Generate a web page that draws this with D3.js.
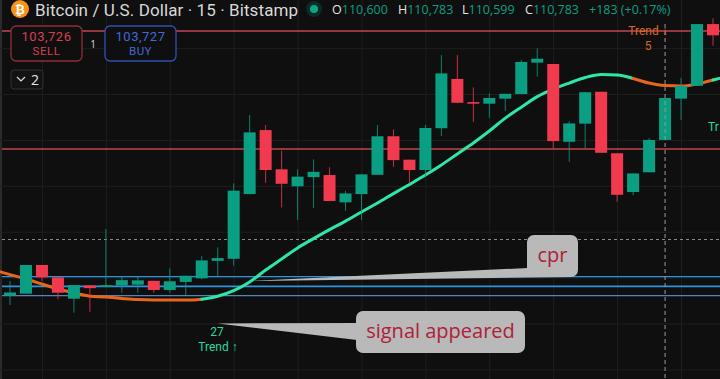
<!DOCTYPE html>
<html lang="en">
<head>
<meta charset="UTF-8">
<title>Bitcoin / U.S. Dollar 15</title>
<script src="https://d3js.org/d3.v7.min.js"></script>
<style>
  html, body { margin: 0; padding: 0; background: #0f0f0f; overflow: hidden; }
  svg { display: block; font-family: "Open Sans", sans-serif; }
  .grid line { stroke: #1f1f1f; }
  .grid path { display: none; }
</style>
</head>
<body>
<div id="chart"></div>
<script>
// candles (15 min bars)
var opens  = [109922,109930,110055,110001,109908,109966,109959,109966,109969,109986,109946,109981,109997,110073,110082,110364,110643,110472,110398,110438,110447,110328,110364,110448,110616,110514,110469,110651,110866,110765,110758,110780,110800,110937,110931,110592,110671,110810,110542,110373,110459,110600,110780,110836,111105];
var highs  = [109985,110055,110055,110001,109967,109966,110212,110007,110004,109986,110040,110008,110094,110132,110411,110709,110665,110553,110472,110515,110481,110379,110450,110665,110646,110514,110665,110970,110970,110829,110803,110801,110948,110999,110931,110682,110808,110810,110542,110454,110608,110783,110871,111105,111130];
var lows   = [109880,109930,109985,109906,109847,109851,109959,109934,109934,109934,109934,109924,109992,110007,110052,110364,110413,110306,110251,110304,110334,110291,110251,110448,110483,110411,110437,110617,110760,110679,110697,110726,110800,110876,110565,110505,110565,110544,110331,110359,110459,110599,110687,110836,111011];
var closes = [109935,110055,110001,109934,109967,109954,109967,109989,109988,109946,109984,110008,110075,110085,110379,110633,110469,110409,110440,110461,110334,110367,110450,110616,110512,110469,110652,110890,110762,110758,110783,110801,110940,110954,110595,110672,110808,110544,110361,110454,110600,110783,110835,111105,111056];

// trend line, starts one bar before the first candle and ends one after the last
var trend = [110033,110013,109994,109972,109950,109933,109919,109915,109909,109904,109902,109902,109902,109906,109919,109943,109981,110033,110081,110129,110170,110209,110246,110286,110325,110366,110406,110447,110491,110539,110587,110639,110695,110743,110789,110822,110848,110872,110885,110883,110868,110848,110837,110835,110844,110861,110879];
var trendFlips = [12, 39, 44]; // bar index where the trend changes side

var redLevels = [111075, 110560];
var blueLevels = [110004, 109962, 109921];
var dashedLevel = 110166;
var gridPrices = [111000,110800,110600,110400,110200,110000,109800,109600];
var gridBars = [2,6,10,14,18,22,26,30,34,38,42];
var crosshairBar = 41;

var width = 720, height = 379;
var green = "#0a9e82", red = "#f23a4e", lineGreen = "#2ee6a6", lineOrange = "#e8651c";

var svg = d3.select("#chart").append("svg")
  .attr("width", width)
  .attr("height", height);

var x = d3.scaleLinear().domain([0, 44]).range([10, 713]);
var y = d3.scaleLinear().domain([111210, 109558]).range([0, 379]);

// left edge strip of the screenshot
svg.append("rect").attr("width", 2).attr("height", height).attr("fill", "#2a2a2a");

// grid
svg.append("g").attr("class", "grid")
  .attr("transform", "translate(0," + height + ")")
  .call(d3.axisBottom(x).tickValues(gridBars).tickSize(-height).tickFormat(""));
svg.append("g").attr("class", "grid")
  .call(d3.axisLeft(y).tickValues(gridPrices).tickSize(-width).tickFormat(""));

// levels
svg.selectAll(".red-level").data(redLevels).enter().append("line")
  .attr("x1", 2).attr("x2", width)
  .attr("y1", function(d) { return y(d); }).attr("y2", function(d) { return y(d); })
  .attr("stroke", "#c24650").attr("stroke-width", 1.5);

svg.append("line")
  .attr("x1", 2).attr("x2", width)
  .attr("y1", y(dashedLevel)).attr("y2", y(dashedLevel))
  .attr("stroke", "#8a8a8a").attr("stroke-dasharray", "3 3");

svg.selectAll(".blue-level").data(blueLevels).enter().append("line")
  .attr("x1", 2).attr("x2", width)
  .attr("y1", function(d) { return y(d); }).attr("y2", function(d) { return y(d); })
  .attr("stroke", function(d, i) { return i == 2 ? "#4f86bd" : "#2f93e0"; })
  .attr("stroke-width", function(d, i) { return i == 1 ? 1.8 : 1.3; });

// trend line, one path per side
var line = d3.line()
  .x(function(d) { return x(d.bar); })
  .y(function(d) { return y(d.price); })
  .curve(d3.curveMonotoneX);

var trendPoints = trend.map(function(p, i) { return {bar: i - 1, price: p}; });
var cuts = [-1].concat(trendFlips, [45]);
d3.range(cuts.length - 1).forEach(function(k) {
  svg.append("path")
    .datum(trendPoints.filter(function(d) { return d.bar >= cuts[k] && d.bar <= cuts[k + 1]; }))
    .attr("d", line)
    .attr("fill", "none")
    .attr("stroke", k % 2 == 0 ? lineOrange : lineGreen)
    .attr("stroke-width", 3)
    .attr("stroke-linecap", "round");
});

// candles
var candles = svg.append("g").selectAll("g").data(opens).enter().append("g");
function candleColor(d, i) { return closes[i] >= opens[i] ? green : red; }

candles.append("line")
  .attr("x1", function(d, i) { return x(i); })
  .attr("x2", function(d, i) { return x(i); })
  .attr("y1", function(d, i) { return y(highs[i]); })
  .attr("y2", function(d, i) { return y(lows[i]); })
  .attr("stroke", candleColor)
  .attr("stroke-opacity", 0.8);

candles.append("rect")
  .attr("x", function(d, i) { return x(i) - 6; })
  .attr("width", 12)
  .attr("y", function(d, i) { return y(Math.max(opens[i], closes[i])); })
  .attr("height", function(d, i) { return Math.max(1.5, Math.abs(y(opens[i]) - y(closes[i]))); })
  .attr("fill", candleColor);

// crosshair
svg.append("line")
  .attr("x1", x(crosshairBar)).attr("x2", x(crosshairBar))
  .attr("y1", 24).attr("y2", height)
  .attr("stroke", "#9a9a9a").attr("stroke-dasharray", "4 3");

// header
svg.append("circle").attr("cx", 20).attr("cy", 9).attr("r", 9).attr("fill", "#f7931a");
svg.append("text").attr("x", 20).attr("y", 13.5).attr("text-anchor", "middle")
  .attr("font-size", 12).attr("font-weight", 700).attr("fill", "#fff").text("₿");
svg.append("text").attr("x", 35).attr("y", 16)
  .attr("font-family", "Roboto").attr("font-size", 17).attr("letter-spacing", 0.1)
  .attr("fill", "#d9d9d9")
  .text("Bitcoin / U.S. Dollar · 15 · Bitstamp");
svg.append("circle").attr("cx", 314).attr("cy", 9).attr("r", 8).attr("fill", "#0b2b25");
svg.append("circle").attr("cx", 314).attr("cy", 9).attr("r", 4).attr("fill", "#0fa585");

var ohlcLabels = [
  {x: 332, label: "O", value: "110,600"},
  {x: 398, label: "H", value: "110,783"},
  {x: 462, label: "L", value: "110,599"},
  {x: 525, label: "C", value: "110,783"}
];
ohlcLabels.forEach(function(d) {
  var t = svg.append("text").attr("x", d.x).attr("y", 14).attr("font-size", 12.5);
  t.append("tspan").attr("fill", "#e6e6e6").text(d.label);
  t.append("tspan").attr("fill", "#0e9f83").text(d.value);
});
svg.append("text").attr("x", 589).attr("y", 14).attr("font-size", 12.5)
  .attr("fill", "#0e9f83").text("+183 (+0.17%)");

// order buttons
function orderBox(bx, stroke, fill, price, side) {
  svg.append("rect").attr("x", bx).attr("y", 26).attr("width", 71).attr("height", 35).attr("rx", 5)
    .attr("fill", "#0f0f0f").attr("stroke", stroke).attr("stroke-width", 1.3);
  svg.append("text").attr("x", bx + 35.5).attr("y", 40.5).attr("text-anchor", "middle")
    .attr("font-family", "Roboto").attr("letter-spacing", 0.5)
    .attr("font-size", 13).attr("fill", fill).text(price);
  svg.append("text").attr("x", bx + 35.5).attr("y", 55).attr("text-anchor", "middle")
    .attr("font-family", "Roboto").attr("letter-spacing", 0.5)
    .attr("font-size", 11.5).attr("fill", fill).text(side);
}
orderBox(11, "#8f2f39", "#d8404f", "103,726", "SELL");
orderBox(105, "#3050b4", "#4169d8", "103,727", "BUY");
svg.append("text").attr("x", 93).attr("y", 48).attr("text-anchor", "middle")
  .attr("font-size", 10).attr("fill", "#d9d9d9").text("1");

svg.append("rect").attr("x", 11).attr("y", 70).attr("width", 32).attr("height", 19).attr("rx", 3)
  .attr("fill", "#131313").attr("stroke", "#333");
svg.append("path").attr("d", "M17 77l4 4l4 -4").attr("fill", "none").attr("stroke", "#ddd").attr("stroke-width", 1.2);
svg.append("text").attr("x", 31).attr("y", 85).attr("font-size", 14).attr("fill", "#e6e6e6").text("2");

// trend labels
function trendLabel(tx, ty, color, label, anchor) {
  svg.append("text").attr("x", tx).attr("y", ty).attr("text-anchor", anchor)
    .attr("font-family", "Roboto").attr("font-size", 12).attr("fill", color).text(label);
}
trendLabel(648, 35, "#d9692a", "Trend ↓", "middle");
trendLabel(648, 50, "#d9692a", "5", "middle");
trendLabel(708, 131, "#2bd9a0", "Tr", "start");
trendLabel(217, 336, "#2bd9a0", "27", "middle");
trendLabel(218, 351, "#2bd9a0", "Trend ↑", "middle");

// callouts pasted on the screenshot
var calloutFill = "#b9b9b9", calloutText = "#b0203a";
function callout(bx, by, bw, bh, tail, label, size) {
  svg.append("polygon").attr("points", tail.map(function(p) { return p.join(","); }).join(" "))
    .attr("fill", calloutFill);
  svg.append("rect").attr("x", bx).attr("y", by).attr("width", bw).attr("height", bh).attr("rx", 7)
    .attr("fill", calloutFill);
  svg.append("text").attr("x", bx + bw / 2).attr("y", by + bh / 2 + size * 0.3)
    .attr("text-anchor", "middle").attr("font-size", size).attr("fill", calloutText).text(label);
}
callout(527, 235, 51, 42, [[528, 268], [x(15), y(109985)], [573, 277]], "cpr", 20);
callout(356, 311, 169, 42, [[357, 323], [x(13), y(109800)], [357, 340]], "signal appeared", 20);
</script>
</body>
</html>
